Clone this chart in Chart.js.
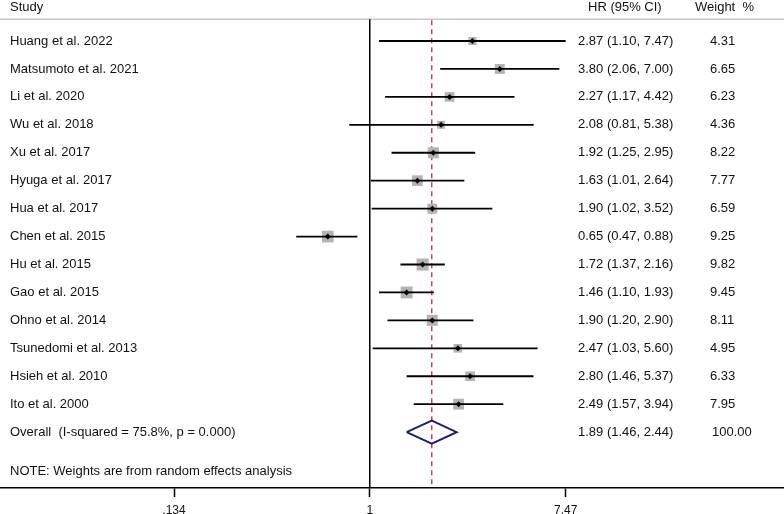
<!DOCTYPE html>
<html>
<head>
<meta charset="utf-8">
<script src="https://cdn.jsdelivr.net/npm/chart.js@4/dist/chart.umd.min.js"></script>
<style>
  html, body { margin: 0; padding: 0; background: #fff; overflow: hidden; }
  #wrap { width: 784px; height: 514px; }
</style>
</head>
<body>
<div id="wrap"><canvas id="c" width="784" height="514"></canvas></div>
<script>
// ---- data ----
const studies = ["Huang et al. 2022","Matsumoto et al. 2021","Li et al. 2020","Wu et al. 2018","Xu et al. 2017","Hyuga et al. 2017","Hua et al. 2017","Chen et al. 2015","Hu et al. 2015","Gao et al. 2015","Ohno et al. 2014","Tsunedomi et al. 2013","Hsieh et al. 2010","Ito et al. 2000"];
const hr     = [2.87, 3.80, 2.27, 2.08, 1.92, 1.63, 1.90, 0.65, 1.72, 1.46, 1.90, 2.47, 2.80, 2.49];
const lower  = [1.10, 2.06, 1.17, 0.81, 1.25, 1.01, 1.02, 0.47, 1.37, 1.10, 1.20, 1.03, 1.46, 1.57];
const upper  = [7.47, 7.00, 4.42, 5.38, 2.95, 2.64, 3.52, 0.88, 2.16, 1.93, 2.90, 5.60, 5.37, 3.94];
const weight = [4.31, 6.65, 6.23, 4.36, 8.22, 7.77, 6.59, 9.25, 9.82, 9.45, 8.11, 4.95, 6.33, 7.95];
const overallLabel = "Overall  (I-squared = 75.8%, p = 0.000)";
const overall = { hr: 1.89, lower: 1.46, upper: 2.44, weight: "100.00" };
const tickValues = [0.134, 1, 7.47];
const tickLabels = [".134", "1", "7.47"];
const headers = { study: "Study", hr: "HR (95% CI)", weight: "Weight  %" };
const note = "NOTE: Weights are from random effects analysis";

// ---- layout constants ----
const XMIN = 0.02245, XMAX = 70.3;
const YMIN = -1.468, YMAX = 16.0;
const TOPLINE = -0.777;
const nRows = studies.length;
const overallRow = nRows;

function fmt(v){ return v.toFixed(2); }

const ciData = [];
studies.forEach((s, i) => {
  ciData.push({x: lower[i], y: i});
  ciData.push({x: upper[i], y: i});
  ciData.push({x: upper[i], y: null});
});
const boxData = studies.map((s, i) => ({x: hr[i], y: i}));
const boxRadius = weight.map(w => 2.72 * Math.sqrt(w));
const dH = 0.41;
const diamond = [
  {x: overall.lower, y: overallRow},
  {x: overall.hr, y: overallRow - dH},
  {x: overall.upper, y: overallRow},
  {x: overall.hr, y: overallRow + dH},
  {x: overall.lower, y: overallRow}
];

const textPlugin = {
  id: 'forestText',
  afterDatasetsDraw(chart) {
    const ctx = chart.ctx;
    const ys = chart.scales.y;
    ctx.save();
    ctx.fillStyle = '#111';
    ctx.font = '13px "Liberation Sans", Arial, sans-serif';
    ctx.textBaseline = 'middle';
    ctx.textAlign = 'left';
    const hy = ys.getPixelForValue(-1.217);
    ctx.fillText(headers.study, 10, hy);
    ctx.fillText(headers.hr, 588, hy);
    ctx.fillText(headers.weight, 695, hy);
    studies.forEach((s, i) => {
      const y = ys.getPixelForValue(i);
      ctx.fillText(s, 10, y);
      ctx.fillText(fmt(hr[i]) + " (" + fmt(lower[i]) + ", " + fmt(upper[i]) + ")", 578, y);
      ctx.fillText(fmt(weight[i]), 710, y);
    });
    const oy = ys.getPixelForValue(overallRow);
    ctx.fillText(overallLabel, 10, oy);
    ctx.fillText(fmt(overall.hr) + " (" + fmt(overall.lower) + ", " + fmt(overall.upper) + ")", 578, oy);
    ctx.fillText(overall.weight, 712, oy);
    ctx.fillText(note, 10, ys.getPixelForValue(15.40));
    ctx.restore();
  }
};

new Chart(document.getElementById('c'), {
  type: 'scatter',
  data: {
    datasets: [
      { type: 'line', data: diamond, borderColor: '#1c1f7a', borderWidth: 2, pointRadius: 0, fill: false, order: 1 },
      { data: boxData, pointStyle: 'rectRot', pointRadius: 3, backgroundColor: '#000', borderWidth: 0, order: 2 },
      { type: 'line', data: ciData, borderColor: '#000', borderWidth: 1.8, pointRadius: 0, spanGaps: false, fill: false, order: 3 },
      { data: boxData, pointStyle: 'rect', pointRadius: boxRadius, backgroundColor: '#b3b3b3', borderWidth: 0, order: 4 },
      { type: 'line', data: [{x: overall.hr, y: TOPLINE + 0.03}, {x: overall.hr, y: YMAX}], borderColor: '#a8323e', borderWidth: 1.3, borderDash: [5, 4], pointRadius: 0, order: 5 },
      { type: 'line', data: [{x: 1, y: TOPLINE}, {x: 1, y: YMAX}], borderColor: '#000', borderWidth: 1.5, pointRadius: 0, order: 6 },
      { type: 'line', data: [{x: XMIN, y: TOPLINE}, {x: XMAX, y: TOPLINE}], borderColor: '#c8c8c8', borderWidth: 1.5, pointRadius: 0, order: 7 }
    ]
  },
  options: {
    responsive: false,
    animation: false,
    layout: { padding: 0, autoPadding: false },
    plugins: { legend: { display: false }, tooltip: { enabled: false } },
    scales: {
      x: {
        type: 'logarithmic',
        min: XMIN, max: XMAX,
        afterBuildTicks(scale) { scale.ticks = tickValues.map(v => ({value: v})); },
        afterFit(scale) { scale.height = 26; },
        ticks: {
          autoSkip: false, maxRotation: 0, padding: 6,
          color: '#111',
          font: { family: '"Liberation Sans", Arial, sans-serif', size: 12 },
          callback(value) { const k = tickValues.indexOf(value); return k >= 0 ? tickLabels[k] : ''; }
        },
        grid: { drawOnChartArea: false, drawTicks: true, tickLength: 9, tickColor: '#000', tickWidth: 1.5 },
        border: { display: true, color: '#000', width: 1.5 }
      },
      y: {
        type: 'linear', display: false, reverse: true, min: YMIN, max: YMAX
      }
    }
  },
  plugins: [textPlugin]
});
</script>
</body>
</html>
